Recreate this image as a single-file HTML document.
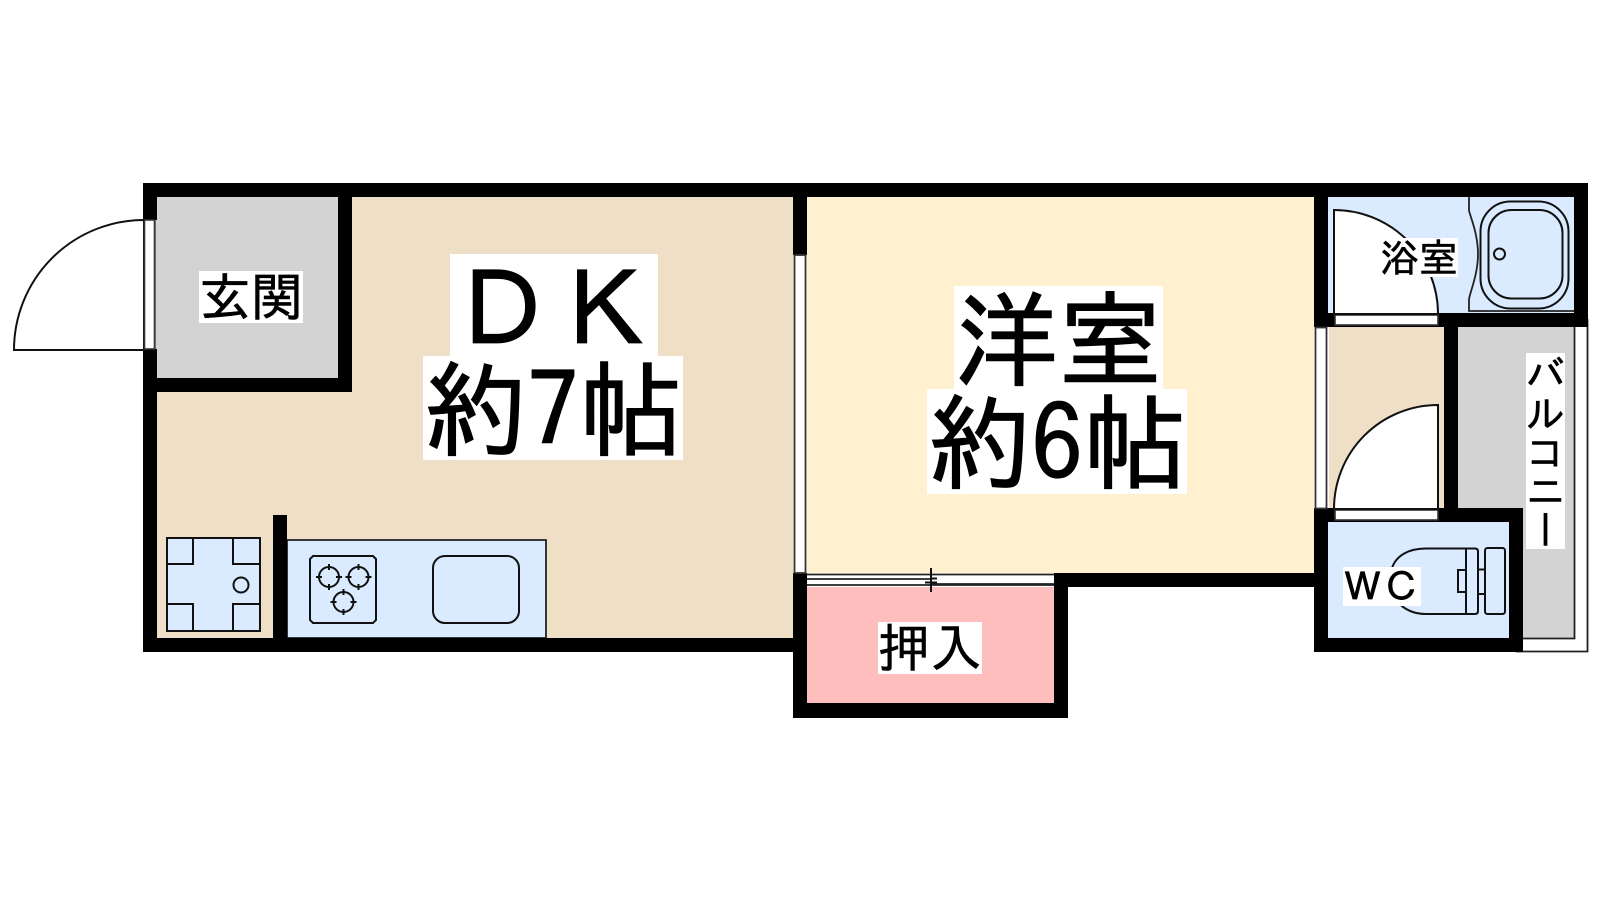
<!DOCTYPE html>
<html lang="ja"><head><meta charset="utf-8"><title>間取り図</title>
<style>
html,body{margin:0;padding:0;background:#fff;width:1600px;height:900px;overflow:hidden}
#w{position:relative;width:1600px;height:900px}
svg{position:absolute;left:0;top:0}
.l{position:absolute;background:#fff;color:#000;font-family:"IPAGothic","Noto Sans CJK JP",sans-serif;white-space:nowrap;text-align:center}
.b{-webkit-text-stroke:1.2px #000}
.s{-webkit-text-stroke:.6px #000}
.i{display:block;position:relative}
</style></head><body><div id="w">
<svg width="1600" height="900" viewBox="0 0 1600 900" fill="none">
<!-- floors -->
<rect x="157" y="197" width="636" height="441" fill="#efdfc6"/>
<rect x="157" y="197" width="181" height="181" fill="#d3d3d3"/>
<rect x="807" y="197" width="507" height="376" fill="#fff0cf"/>
<rect x="807" y="587" width="247" height="116" fill="#ffbebe"/>
<rect x="1328" y="197" width="246" height="116" fill="#daeaff"/>
<rect x="1329" y="327" width="115" height="181" fill="#efdfc6"/>
<rect x="1458" y="327" width="116" height="311" fill="#d3d3d3"/>
<rect x="1328" y="522" width="181" height="116" fill="#daeaff"/>
<rect x="287" y="540" width="259" height="98" fill="#daeaff" stroke="#222" stroke-width="1.800"/>
<!-- balcony rail -->
<path d="M1574.500 327V638.500H1516M1587.500 319V651.500H1516" stroke="#222" stroke-width="1.800"/>
<!-- walls -->
<g fill="#000">
<rect x="143" y="183" width="1445" height="14"/>
<rect x="143" y="183" width="14" height="37"/>
<rect x="143" y="349" width="14" height="303"/>
<rect x="338" y="183" width="14" height="209"/>
<rect x="143" y="378" width="209" height="14"/>
<rect x="273" y="515" width="14" height="137"/>
<rect x="143" y="638" width="664" height="14"/>
<rect x="793" y="183" width="14" height="72"/>
<rect x="793" y="573" width="14" height="145"/>
<rect x="793" y="703" width="275" height="15"/>
<rect x="1054" y="573" width="14" height="145"/>
<rect x="1054" y="573" width="274" height="14"/>
<rect x="1314" y="183" width="14" height="144"/>
<rect x="1314" y="313" width="274" height="14"/>
<rect x="1444" y="313" width="14" height="209"/>
<rect x="1314" y="508" width="209" height="14"/>
<rect x="1314" y="508" width="14" height="144"/>
<rect x="1509" y="508" width="14" height="144"/>
<rect x="1314" y="638" width="209" height="14"/>
<rect x="1574" y="183" width="14" height="144"/>
</g>
<!-- entry door -->
<path d="M144 220A130 130 0 0 0 14 350H144Z" fill="#fff" stroke="#111" stroke-width="2"/>
<rect x="144.500" y="220" width="10" height="129" fill="#fff" stroke="#333" stroke-width="1.600"/>
<path d="M155.800 220V349" stroke="#666" stroke-width="1"/>
<!-- sliding windows -->
<rect x="794.500" y="255" width="11" height="318" fill="#fff" stroke="#333" stroke-width="1.800"/>
<rect x="807" y="573" width="247" height="14" fill="#fff"/>
<path d="M807 574.500H1054M807 579H932M932 584H1054M807 585H1054" stroke="#222" stroke-width="1.800"/>
<path d="M931 568V592M925 582.500H937M931 578.500H937" stroke="#111" stroke-width="2"/>
<rect x="1315.500" y="327.500" width="11" height="181" fill="#fff" stroke="#333" stroke-width="1.800"/>
<rect x="1335" y="315" width="103" height="10" fill="#fff" stroke="#333" stroke-width="1.600"/>
<rect x="1335" y="510" width="103" height="10" fill="#fff" stroke="#333" stroke-width="1.600"/>
<!-- bath door -->
<path d="M1334 210A104 104 0 0 1 1438 313V314H1334Z" fill="#fff" stroke="#111" stroke-width="2"/>
<!-- hall door -->
<path d="M1438 405A104 104 0 0 0 1334 509H1438Z" fill="#fff" stroke="#111" stroke-width="2"/>
<!-- tub -->
<path d="M1469 197V210C1469 214 1478 232 1478 254S1469 294 1469 300V311H1574" stroke="#222" stroke-width="1.800"/>
<rect x="1480.500" y="201.500" width="88" height="107" rx="30" stroke="#111" stroke-width="2"/>
<rect x="1488.500" y="210" width="74" height="88.500" rx="23" stroke="#111" stroke-width="2"/>
<circle cx="1499.500" cy="254" r="5.500" stroke="#111" stroke-width="2"/>
<!-- toilet -->
<path d="M1392 568C1396 556 1408 548.500 1426 548.500H1466M1392 594C1400 608 1412 614 1426 614H1466" stroke="#111" stroke-width="2"/>
<path d="M1466 548.500H1475Q1478 548.500 1478 551.500V611Q1478 614 1475 614H1466ZM1466 570H1458V592H1466M1478 569.500H1485M1478 594H1485" stroke="#111" stroke-width="2"/>
<rect x="1485" y="548" width="20" height="66" rx="2.500" stroke="#111" stroke-width="2"/>
<!-- fridge -->
<rect x="167" y="538" width="93" height="93" fill="#daeaff" stroke="#111" stroke-width="2"/>
<path d="M193 538V564H167M233 538V564H260M167 604H193V631M260 604H233V631" stroke="#111" stroke-width="2"/>
<circle cx="241" cy="585" r="7.500" stroke="#111" stroke-width="2"/>
<!-- stove -->
<path d="M313 556H373L376 559V620L373 623H313L310 620V559Z" stroke="#111" stroke-width="2"/>
<g stroke="#111" stroke-width="2">
<circle cx="329" cy="577" r="10"/><path d="M329 564V570M329 584V590M316 577H322M336 577H342"/>
<circle cx="358.500" cy="577" r="10"/><path d="M358.500 564V570M358.500 584V590M345.500 577H351.500M365.500 577H371.500"/>
<circle cx="343.500" cy="602" r="10"/><path d="M343.500 589V595M343.500 609V615M330.500 602H336.500M350.500 602H356.500"/>
</g>
<rect x="433" y="556" width="86" height="67" rx="12" stroke="#111" stroke-width="2"/>
</svg>
<div class="l b" style="left:450px;top:254px;width:208px;height:102px;font-size:104px;line-height:102px;overflow:hidden"><span class="i" style="top:4px">ＤＫ</span></div>
<div class="l b" style="left:423px;top:356px;width:260px;height:104px;font-size:104px;line-height:104px;overflow:hidden"><span class="i" style="top:1px">約7帖</span></div>
<div class="l b" style="left:954px;top:286px;width:209px;height:103px;font-size:104px;line-height:103px;overflow:hidden"><span class="i" style="top:2px">洋室</span></div>
<div class="l b" style="left:927px;top:389px;width:260px;height:105px;font-size:104px;line-height:105px;overflow:hidden"><span class="i" style="top:1px">約6帖</span></div>
<div class="l s" style="left:199px;top:271px;width:104px;height:52px;font-size:52px;line-height:52px">玄関</div>
<div class="l s" style="left:878px;top:622px;width:104px;height:52px;font-size:52px;line-height:52px">押入</div>
<div class="l s" style="left:1380px;top:238px;width:78px;height:39px;font-size:39px;line-height:39px">浴室</div>
<div class="l s" style="left:1343px;top:567px;width:78px;height:39px;font-size:39px;line-height:39px">ＷＣ</div>
<div class="l s" style="left:1526px;top:353px;width:39px;height:196px;font-size:39px;line-height:39px;writing-mode:vertical-rl">バルコニー</div>
</div></body></html>
